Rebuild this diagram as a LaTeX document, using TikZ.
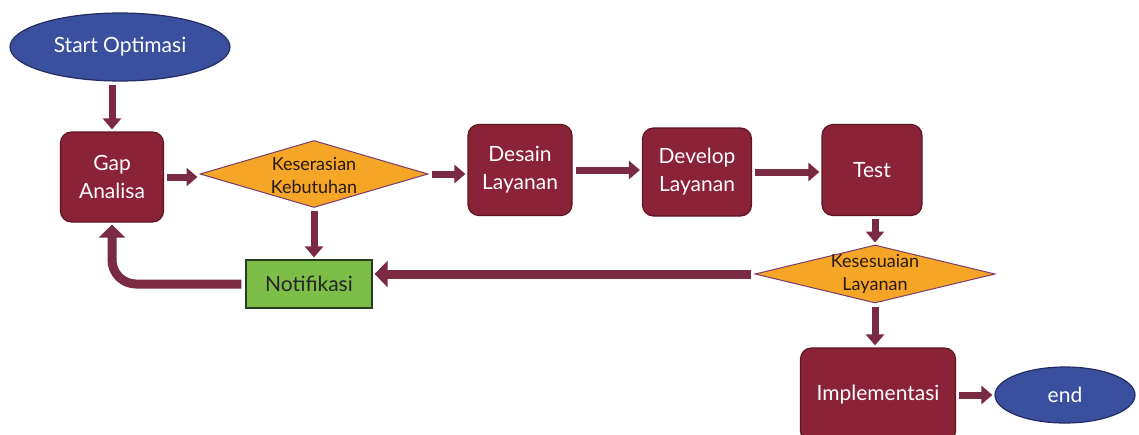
\documentclass[tikz,border=0pt]{standalone}
\usepackage{fontspec}
\setmainfont{Lato}
\usetikzlibrary{shapes.geometric,arrows.meta}
\definecolor{boxred}{RGB}{138,34,56}
\definecolor{boxedge}{RGB}{95,20,38}
\definecolor{arrowred}{RGB}{122,42,66}
\definecolor{ovalblue}{RGB}{58,80,158}
\definecolor{ovaledge}{RGB}{35,45,100}
\definecolor{diaorange}{RGB}{246,166,38}
\definecolor{diaedge}{RGB}{120,60,110}
\definecolor{notegreen}{RGB}{124,190,72}
\definecolor{noteedge}{RGB}{40,60,30}
\tikzset{
  procbox/.style={draw=boxedge, line width=1.2pt, fill=boxred, rounded corners=11pt,
    text=white, align=center, font=\fontsize{21}{28}\selectfont, inner sep=0pt},
  oval/.style={ellipse, draw=ovaledge, line width=1.2pt, fill=ovalblue, text=white,
    font=\fontsize{21}{26}\selectfont, inner sep=0pt},
  dia/.style={diamond, draw=diaedge, line width=1pt, fill=diaorange, inner sep=0pt},
  diatext/.style={align=center, text=black!80!brown, font=\fontsize{18}{23}\selectfont, inner sep=0pt},
  notebox/.style={draw=noteedge, line width=1.2pt, fill=notegreen, text=black!85,
    font=\fontsize{21}{26}\selectfont, inner sep=0pt},
  flow/.style={draw=arrowred, line width=7pt, -{Triangle[width=18pt,length=11pt]},
    shorten >=2pt, shorten <=3pt},
  bigflow/.style={draw=arrowred, line width=9pt, -{Triangle[width=26pt,length=13pt]},
    shorten >=2pt, shorten <=4pt}
}
\begin{document}
\begin{tikzpicture}[x=1pt,y=-1pt]
\clip (0,0) rectangle (1139,434);
\fill[white] (0,0) rectangle (1139,434);

% nodes
\node[oval, minimum width=220pt, minimum height=68pt] (start) at (120,47) {Start Optimasi};
\node[procbox, minimum width=103pt, minimum height=90pt] (gap) at (112,177) {Gap\\Analisa};
\node[dia, minimum width=228pt, minimum height=67pt] (k1) at (314,174) {};
\node[diatext] (k1t) at (314,176) {Keserasian\\Kebutuhan};
\node[procbox, minimum width=104pt, minimum height=91pt] (des) at (520,170) {Desain\\Layanan};
\node[procbox, minimum width=109pt, minimum height=88pt] (dev) at (697,172) {Develop\\Layanan};
\node[procbox, minimum width=100pt, minimum height=91pt] (test) at (872,170) {Test};
\node[dia, minimum width=240pt, minimum height=58pt] (k2) at (875,274) {};
\node[diatext] (k2t) at (875,274) {Kesesuaian\\Layanan};
\node[notebox, minimum width=126pt, minimum height=48pt] (notif) at (309,284) {Notifikasi};
\node[procbox, minimum width=155pt, minimum height=94pt] (impl) at (878,395) {Implementasi};
\node[oval, minimum width=140pt, minimum height=56pt] (end) at (1065,395) {end};

% connectors
\draw[flow] (gap.north |- start.south) -- (gap.north);
\draw[flow] (gap.east) -- (gap.east -| k1.west);
\draw[flow] (k1.east) -- (k1.east -| des.west);
\draw[flow] (des.east) -- (des.east -| dev.west);
\draw[flow] (dev.east) -- (dev.east -| test.west);
\draw[flow] (test.south -| k2.north) -- (k2.north);
\draw[flow] (k1.south) -- (k1.south |- notif.north);
\draw[bigflow] (k2.west) -- (k2.west -| notif.east);
\draw[bigflow, rounded corners=24pt] (notif.west) -| (gap.south);
\draw[flow] (k2.south) -- (k2.south |- impl.north);
\draw[flow] (impl.east) -- (end.west);
\end{tikzpicture}
\end{document}
